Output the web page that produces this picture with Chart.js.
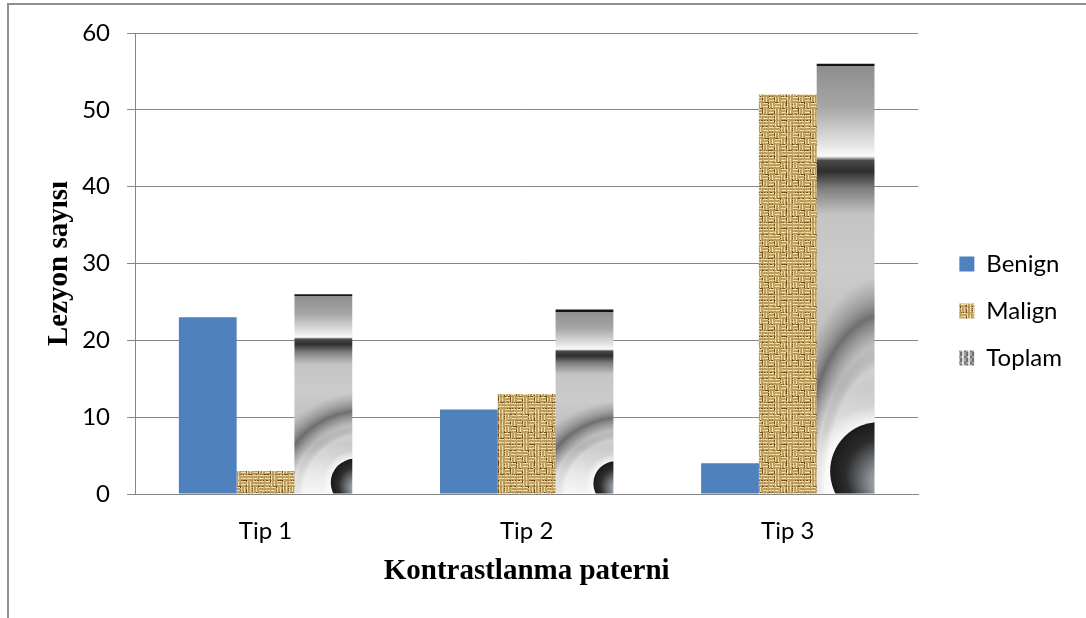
<!DOCTYPE html>
<html>
<head>
<meta charset="utf-8">
<script src="https://cdn.jsdelivr.net/npm/chart.js@4.4.1/dist/chart.umd.min.js"></script>
<style>
  html, body { margin: 0; padding: 0; background: #ffffff; }
  #wrap { width: 1086px; height: 618px; position: relative; }
</style>
</head>
<body>
<div id="wrap"><canvas id="c" width="1086" height="618"></canvas></div>
<script>
// Lesion counts per contrast-enhancement pattern
const categories = ['Tip 1', 'Tip 2', 'Tip 3'];
const seriesNames = ['Benign', 'Malign', 'Toplam'];
const benign = [23, 11, 4];
const malign = [3, 13, 52];
const toplam = [26, 24, 56];
const yTicks = [0, 10, 20, 30, 40, 50, 60];

const GRID = '#868686';
const TICK_FONT = { family: 'Lato', size: 24 };
const TITLE_FONT = { family: 'Liberation Serif', size: 29, weight: 'bold' };

// small deterministic hash used for fabric grain
function hash(x, y) {
  let h = (x * 374761393 + y * 668265263) | 0;
  h = Math.imul(h ^ (h >>> 13), 1274126177);
  h ^= h >>> 16;
  return (h >>> 0) / 4294967295;
}

// woven burlap tile: cream threads over a tan ground with dark gaps
function burlapTile() {
  const s = 36, cell = 6;
  const c = document.createElement('canvas');
  c.width = c.height = s;
  const g = c.getContext('2d');
  const img = g.createImageData(s, s);
  const light = [240, 222, 160];
  const mid = [190, 158, 96];
  const dark = [112, 82, 38];
  const n = s / cell;
  for (let y = 0; y < s; y++) {
    for (let x = 0; x < s; x++) {
      const cx = Math.floor(x / cell), cy = Math.floor(y / cell);
      const horiz = ((cx + cy) % 2 === 0) !== (hash(cx % n, cy % n) > 0.75);
      const lx = x % cell, ly = y % cell;
      const across = horiz ? ly : lx;
      const along = horiz ? lx : ly;
      let col;
      if (across === 1 || across === 4) col = (along === 0) ? mid : light;
      else if (across === 0 && hash(x + 7, y + 3) > 0.45) col = dark;
      else col = mid;
      const j = (hash(x, y) - 0.5) * 28;
      const i = (y * s + x) * 4;
      img.data[i] = Math.max(0, Math.min(255, col[0] + j));
      img.data[i + 1] = Math.max(0, Math.min(255, col[1] + j));
      img.data[i + 2] = Math.max(0, Math.min(255, col[2] + j * 0.7));
      img.data[i + 3] = 255;
    }
  }
  g.putImageData(img, 0, 0);
  return c;
}

// mottled grey swatch for the legend
function checkerTile() {
  const c = document.createElement('canvas');
  c.width = c.height = 6;
  const g = c.getContext('2d');
  const shades = ['#707070', '#d2d2d2', '#a4a4a4', '#e6e6e6'];
  for (let y = 0; y < 3; y++) {
    for (let x = 0; x < 3; x++) {
      g.fillStyle = shades[(x + 2 * y) % 4];
      g.fillRect(x * 2, y * 2, 2, 2);
    }
  }
  return c;
}

const ctx2d = document.getElementById('c').getContext('2d');
const burlap = ctx2d.createPattern(burlapTile(), 'repeat');
const checker = ctx2d.createPattern(checkerTile(), 'repeat');

// vertical shading for the total bars, stretched to each bar's height
function toplamFill(context) {
  if (context.type !== 'data') return '#bdbdbd';
  const ys = context.chart.scales.y;
  if (!ys) return '#bdbdbd';
  const top = ys.getPixelForValue(context.raw);
  const base = ys.getPixelForValue(0);
  if (!isFinite(top) || !isFinite(base)) return '#bdbdbd';
  const h = Math.max(1, base - top);
  const g = context.chart.ctx.createLinearGradient(0, top, 0, base);
  const e = Math.min(0.03, 2 / h);
  g.addColorStop(0, '#141414');
  g.addColorStop(e, '#141414');
  g.addColorStop(e + 0.001, '#8e8e8e');
  g.addColorStop(0.10, '#a6a6a6');
  g.addColorStop(0.19, '#e6e6e6');
  g.addColorStop(0.215, '#fbfbfb');
  g.addColorStop(0.225, '#4a4a4a');
  g.addColorStop(0.25, '#2e2e2e');
  g.addColorStop(0.29, '#7e7e7e');
  g.addColorStop(0.35, '#c4c4c4');
  g.addColorStop(0.48, '#cbcbcb');
  g.addColorStop(0.75, '#b8b8b8');
  g.addColorStop(0.90, '#e2e2e2');
  g.addColorStop(1, '#f3f3f3');
  return g;
}

// arc band and sphere detail on the total bars
const toplamDetail = {
  id: 'toplamDetail',
  afterDatasetsDraw(chart) {
    const meta = chart.getDatasetMeta(2);
    if (!meta || meta.hidden) return;
    const ctx = chart.ctx;
    meta.data.forEach(el => {
      const p = el.getProps(['x', 'y', 'base', 'width'], true);
      const left = p.x - p.width / 2, w = p.width;
      const top = p.y, h = p.base - p.y;
      ctx.save();
      ctx.beginPath();
      ctx.rect(left, top, w, h);
      ctx.clip();
      // soft arc band
      ctx.save();
      ctx.translate(left + 1.2 * w, top + 1.0 * h);
      ctx.scale(1.6 * w, 0.45 * h);
      const rg = ctx.createRadialGradient(0, 0, 0, 0, 0, 1.2);
      rg.addColorStop(0, 'rgba(255,255,255,0.0)');
      rg.addColorStop(0.55, 'rgba(255,255,255,0.3)');
      rg.addColorStop(0.64, 'rgba(90,90,90,0.0)');
      rg.addColorStop(0.77, 'rgba(60,60,60,0.62)');
      rg.addColorStop(0.84, 'rgba(100,100,100,0.4)');
      rg.addColorStop(0.94, 'rgba(120,120,120,0.0)');
      rg.addColorStop(1, 'rgba(120,120,120,0.0)');
      ctx.fillStyle = rg;
      ctx.fillRect(-2, -2, 4, 4);
      ctx.restore();
      // dark sphere at the bottom right
      const r = 0.11 * h + 2;
      const cx = left + w + 0.1 * r, cy = p.base - 0.45 * r;
      const halo = ctx.createRadialGradient(cx, cy, r * 0.9, cx, cy, r * 1.35);
      halo.addColorStop(0, 'rgba(255,255,255,0.95)');
      halo.addColorStop(1, 'rgba(255,255,255,0)');
      ctx.fillStyle = halo;
      ctx.beginPath();
      ctx.arc(cx, cy, r * 1.35, 0, Math.PI * 2);
      ctx.fill();
      const sg = ctx.createRadialGradient(cx + 0.25 * r, cy + 0.35 * r, 0, cx, cy, r);
      sg.addColorStop(0, '#cdd4dc');
      sg.addColorStop(0.35, '#8d939a');
      sg.addColorStop(0.75, '#2c2c2c');
      sg.addColorStop(1, '#1a1a1a');
      ctx.fillStyle = sg;
      ctx.beginPath();
      ctx.arc(cx, cy, r, 0, Math.PI * 2);
      ctx.fill();
      ctx.restore();
    });
  }
};

// grey frame along the top and left edges
const frame = {
  id: 'frame',
  beforeDraw(chart) {
    const ctx = chart.ctx;
    ctx.save();
    ctx.fillStyle = '#ffffff';
    ctx.fillRect(0, 0, chart.width, chart.height);
    ctx.fillStyle = '#8f8f8f';
    ctx.fillRect(7, 3, chart.width - 7, 2);
    ctx.fillRect(7, 3, 2, chart.height - 3);
    ctx.restore();
  }
};

new Chart(ctx2d, {
  type: 'bar',
  data: {
    labels: categories,
    datasets: [
      { label: seriesNames[0], data: benign, backgroundColor: '#4f81bd' },
      { label: seriesNames[1], data: malign, backgroundColor: burlap },
      { label: seriesNames[2], data: toplam, backgroundColor: toplamFill }
    ]
  },
  options: {
    responsive: false,
    animation: false,
    devicePixelRatio: 1,
    datasets: { bar: { categoryPercentage: 0.664, barPercentage: 1.0, borderWidth: 0 } },
    layout: { padding: { top: 4, right: 14, bottom: 0, left: 0 } },
    plugins: {
      tooltip: { enabled: false },
      legend: {
        position: 'right',
        align: 'center',
        labels: {
          boxWidth: 15,
          boxHeight: 15,
          padding: 23,
          color: '#000000',
          font: TICK_FONT,
          generateLabels(chart) {
            const items = Chart.defaults.plugins.legend.labels.generateLabels(chart);
            items[0].fillStyle = '#4f81bd';
            items[1].fillStyle = burlap;
            items[2].fillStyle = checker;
            items.forEach(it => { it.lineWidth = 0; it.strokeStyle = 'rgba(0,0,0,0)'; });
            return items;
          }
        }
      }
    },
    scales: {
      x: {
        type: 'category',
        position: 'bottom',
        grid: { display: false, drawTicks: false },
        border: { display: true, color: GRID, width: 1 },
        ticks: { color: '#000000', font: TICK_FONT, padding: 23, maxRotation: 0 },
        title: {
          display: true,
          text: 'Kontrastlanma paterni',
          color: '#000000',
          font: TITLE_FONT,
          padding: { top: 0, bottom: 29 }
        },
        afterFit(s) { s.height = 124; }
      },
      xTop: {
        type: 'linear',
        position: 'top',
        display: true,
        grid: { display: false, drawTicks: false },
        border: { display: false },
        ticks: { display: false },
        afterFit(s) { s.height = 29; }
      },
      y: {
        type: 'linear',
        position: 'left',
        min: 0,
        max: 60,
        afterBuildTicks(s) { s.ticks = yTicks.map(v => ({ value: v })); },
        grid: { color: GRID, lineWidth: 1, drawTicks: true, tickLength: 8, tickColor: GRID },
        border: { display: true, color: GRID, width: 1 },
        ticks: { color: '#000000', font: TICK_FONT, padding: 17 },
        title: {
          display: true,
          text: 'Lezyon sayısı',
          color: '#000000',
          font: TITLE_FONT,
          padding: { top: 42, bottom: 0 }
        },
        afterFit(s) { s.width = 135; }
      },
      yR: {
        type: 'linear',
        position: 'right',
        display: true,
        grid: { display: false, drawTicks: false },
        border: { display: false },
        ticks: { display: false },
        afterFit(s) { s.width = 18; }
      }
    }
  },
  plugins: [frame, toplamDetail]
});
</script>
</body>
</html>
